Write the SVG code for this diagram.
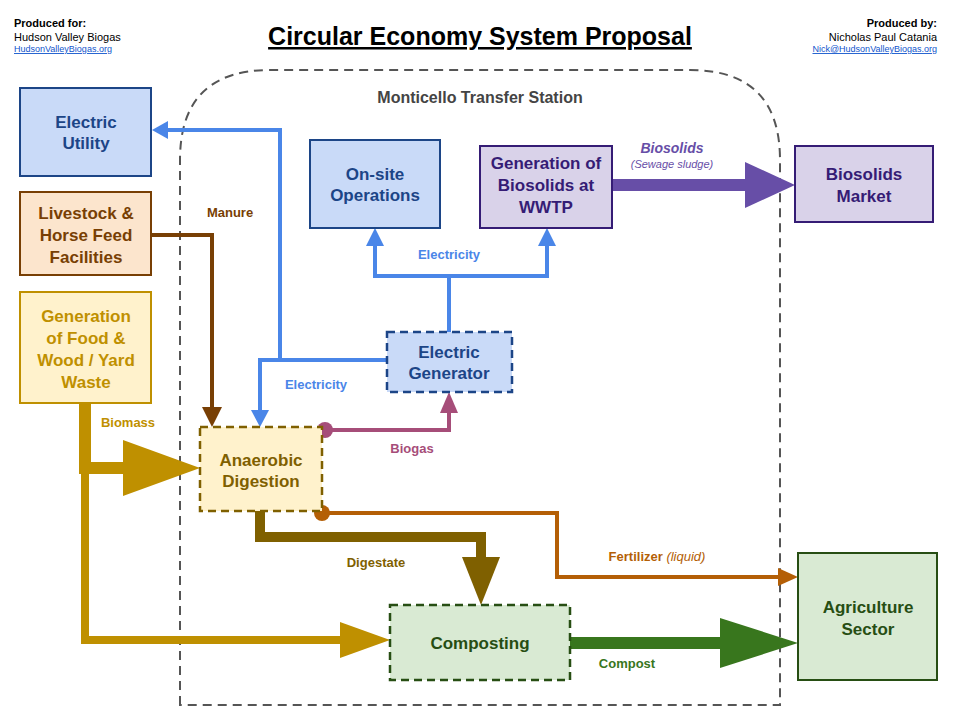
<svg xmlns="http://www.w3.org/2000/svg" width="960" height="720" viewBox="0 0 960 720">
<style>
text{font-family:"Liberation Sans",Arial,sans-serif;font-weight:bold;text-anchor:middle}
.n{font-size:17px}
.l{font-size:13px}
.h{font-size:11px;font-weight:normal}
.bl rect{fill:#c9daf8;stroke:#1c4587;stroke-width:2}
.bl text{fill:#1c4587}
.pu rect{fill:#d9d2e9;stroke:#351c75;stroke-width:2}
.pu text{fill:#351c75}
.gr rect{fill:#d9ead3;stroke:#274e13;stroke-width:2}
.gr text{fill:#274e13}
.d rect{stroke-dasharray:8 5;stroke-width:2.5}
</style>
<rect width="960" height="720" fill="#fff"/>
<g id="header">
<text x="14" y="27" class="h" style="font-weight:bold;text-anchor:start">Produced for:</text>
<text x="14" y="41" class="h" style="text-anchor:start">Hudson Valley Biogas</text>
<text x="14" y="52" class="h" style="text-anchor:start;font-size:9px;fill:#1155cc;text-decoration:underline">HudsonValleyBiogas.org</text>
<text x="937" y="27" class="h" style="font-weight:bold;text-anchor:end">Produced by:</text>
<text x="937" y="41" class="h" style="text-anchor:end">Nicholas Paul Catania</text>
<text x="937" y="52" class="h" style="text-anchor:end;font-size:9px;fill:#1155cc;text-decoration:underline">Nick@HudsonValleyBiogas.org</text>
<text x="480" y="45" style="font-size:25px;text-decoration:underline;fill:#000">Circular Economy System Proposal</text>
</g>
<g id="station">
<path d="M180,705 V160 Q180,70 270,70 H690 Q780,70 780,160 V705 Z" fill="none" stroke="#555" stroke-width="2" stroke-dasharray="9 6"/>
<text x="480" y="103" style="font-size:16px;fill:#444">Monticello Transfer Station</text>
</g>
<g id="connectors" fill="none">
<polyline points="387,360 280,360 280,130 166,130" stroke="#4a86e8" stroke-width="4"/>
<polygon points="152,130 168,121 168,139" fill="#4a86e8"/>
<polyline points="280,360 260,360 260,412" stroke="#4a86e8" stroke-width="4"/>
<polygon points="260,427 251,410 269,410" fill="#4a86e8"/>
<polyline points="449,332 449,276 375,276 375,243" stroke="#4a86e8" stroke-width="4"/>
<polyline points="449,276 547,276 547,243" stroke="#4a86e8" stroke-width="4"/>
<polygon points="375,228 366,246 384,246" fill="#4a86e8"/>
<polygon points="547,228 538,246 556,246" fill="#4a86e8"/>
<polyline points="151,235 212,235 212,410" stroke="#783f04" stroke-width="4"/>
<polygon points="212,427 202,407 222,407" fill="#783f04"/>
<polyline points="85,403 85,468 125,468" stroke="#bf9000" stroke-width="12"/>
<polygon points="200,468 123,440 123,496" fill="#bf9000"/>
<polyline points="85,468 85,640 340,640" stroke="#bf9000" stroke-width="8"/>
<polygon points="390,640 340,622 340,658" fill="#bf9000"/>
<polyline points="325,430 449,430 449,410" stroke="#a64d79" stroke-width="4"/>
<circle cx="325" cy="430" r="8" fill="#a64d79"/>
<polygon points="449,392 440,413 458,413" fill="#a64d79"/>
<polyline points="260,511 260,537 481,537 481,560" stroke="#7f6000" stroke-width="10"/>
<polygon points="481,605 462,557 500,557" fill="#7f6000"/>
<polyline points="322,513 557,513 557,577 782,577" stroke="#b45f06" stroke-width="4"/>
<circle cx="322" cy="513" r="8" fill="#b45f06"/>
<polygon points="798,577 778,568 778,586" fill="#b45f06"/>
<line x1="570" y1="643" x2="725" y2="643" stroke="#38761d" stroke-width="12"/>
<polygon points="798,643 720,618 720,668" fill="#38761d"/>
<line x1="612" y1="185" x2="750" y2="185" stroke="#674ea7" stroke-width="12"/>
<polygon points="795,185 745,162 745,208" fill="#674ea7"/>
<text x="230" y="217" class="l" fill="#783f04" stroke="none">Manure</text>
<text x="128" y="427" class="l" fill="#bf9000" stroke="none">Biomass</text>
<text x="449" y="259" class="l" fill="#4a86e8" stroke="none">Electricity</text>
<text x="316" y="389" class="l" fill="#4a86e8" stroke="none">Electricity</text>
<text x="412" y="453" class="l" fill="#a64d79" stroke="none">Biogas</text>
<text x="376" y="567" class="l" fill="#7f6000" stroke="none">Digestate</text>
<text x="657" y="561" class="l" fill="#b45f06" stroke="none">Fertilizer <tspan font-style="italic" font-weight="normal">(liquid)</tspan></text>
<text x="627" y="668" class="l" fill="#38761d" stroke="none">Compost</text>
<text x="672" y="153" class="l" fill="#674ea7" stroke="none" font-style="italic" style="font-size:14px">Biosolids</text>
<text x="672" y="168" class="h" fill="#674ea7" stroke="none" font-style="italic">(Sewage sludge)</text>
</g>
<g id="electric-utility" class="bl"><rect x="20" y="88" width="131" height="88"/><text x="86" y="128" class="n">Electric</text><text x="86" y="149" class="n">Utility</text></g>
<g id="livestock"><rect x="20" y="192" width="131" height="83" fill="#fce5cd" stroke="#783f04" stroke-width="2"/><text x="86" y="219" class="n" fill="#783f04">Livestock &amp;</text><text x="86" y="241" class="n" fill="#783f04">Horse Feed</text><text x="86" y="263" class="n" fill="#783f04">Facilities</text></g>
<g id="food-waste"><rect x="20" y="292" width="131" height="111" fill="#fff2cc" stroke="#bf9000" stroke-width="2"/><text x="86" y="322" class="n" fill="#bf9000">Generation</text><text x="86" y="344" class="n" fill="#bf9000">of Food &amp;</text><text x="86" y="366" class="n" fill="#bf9000">Wood / Yard</text><text x="86" y="388" class="n" fill="#bf9000">Waste</text></g>
<g id="onsite" class="bl"><rect x="310" y="140" width="130" height="88"/><text x="375" y="180" class="n">On-site</text><text x="375" y="201" class="n">Operations</text></g>
<g id="wwtp" class="pu"><rect x="480" y="146" width="132" height="82"/><text x="546" y="169" class="n">Generation of</text><text x="546" y="191" class="n">Biosolids at</text><text x="546" y="213" class="n">WWTP</text></g>
<g id="biosolids-market" class="pu"><rect x="795" y="146" width="138" height="76"/><text x="864" y="180" class="n">Biosolids</text><text x="864" y="202" class="n">Market</text></g>
<g id="generator" class="bl d"><rect x="387" y="332" width="125" height="60"/><text x="449" y="358" class="n">Electric</text><text x="449" y="379" class="n">Generator</text></g>
<g id="digestion" class="d"><rect x="200" y="427" width="122" height="84" fill="#fff2cc" stroke="#7f6000"/><text x="261" y="466" class="n" fill="#7f6000">Anaerobic</text><text x="261" y="487" class="n" fill="#7f6000">Digestion</text></g>
<g id="composting" class="gr d"><rect x="390" y="605" width="180" height="75"/><text x="480" y="649" class="n">Composting</text></g>
<g id="agriculture" class="gr"><rect x="798" y="553" width="139" height="127"/><text x="868" y="613" class="n">Agriculture</text><text x="868" y="635" class="n">Sector</text></g>
</svg>
